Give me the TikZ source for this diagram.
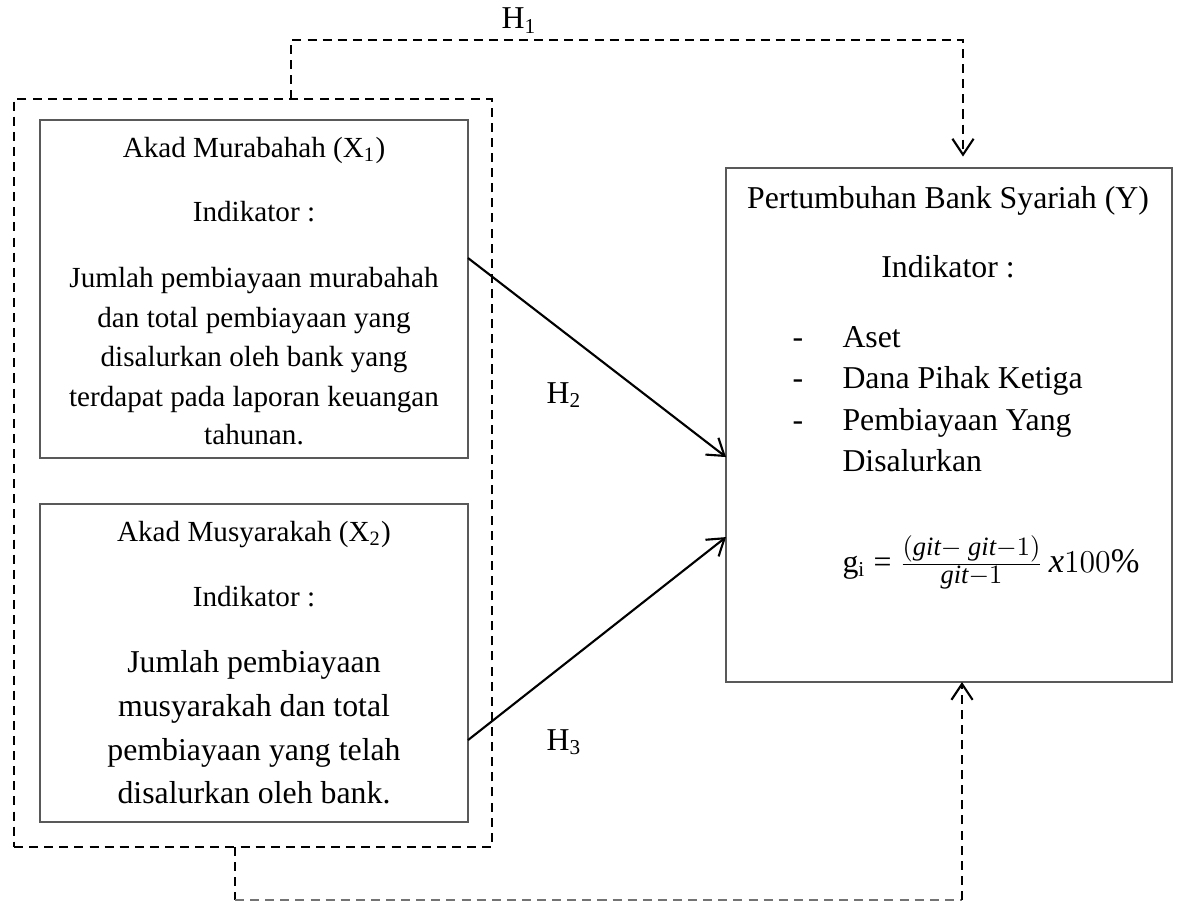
\documentclass[tikz,border=0pt]{standalone}
\usepackage{fontspec}
\setmainfont{Liberation Serif}
\usetikzlibrary{arrows.meta}
\newcommand\fA{\fontsize{11pt}{13pt}\selectfont}
\newcommand\fB{\fontsize{12pt}{14pt}\selectfont}
\newcommand\fracpart[1]{\hbox{\fontsize{10pt}{12pt}\selectfont$#1$}}
\begin{document}
\begin{tikzpicture}[x=0.3774pt,y=-0.3774pt,
  box/.style={draw=black!65,line width=0.45pt,inner sep=0pt,outer sep=0pt},
  grpbox/.style={draw=black,line width=0.7pt,dash pattern=on 3.4pt off 2.3pt,inner sep=0pt,outer sep=0pt},
  dline/.style={draw=black,line width=0.7pt,dash pattern=on 3.4pt off 2.3pt},
  gline/.style={draw=black!55,line width=0.45pt,dash pattern=on 3.4pt off 2.3pt},
  barb/.style={-{Straight Barb[length=6pt,width=8pt,line width=0.8pt]}},
  arr/.style={draw=black,line width=0.8pt,barb},
  tA/.style={font=\fA,inner sep=0pt,anchor=base},
  tB/.style={font=\fB,inner sep=0pt,anchor=base},
  tBw/.style={font=\fB,inner sep=0pt,anchor=base west}]
\useasboundingbox (0,0) rectangle (1178,904);
% boxes
\node[grpbox,minimum width=180.4pt,minimum height=282.3pt] (grp) at (253,473) {};
\node[box,fill=white,minimum width=161.5pt,minimum height=127.6pt] (b1) at (254,289) {};
\node[box,fill=white,minimum width=161.5pt,minimum height=120.0pt] (b2) at (254,663) {};
\node[box,minimum width=168.3pt,minimum height=194.0pt] (y) at (949,425) {};
% box 1 text
\node[tA] (b1t) at (254,157) {Akad Murabahah (X\textsubscript{1})};
\node[tA] (b1i) at (254,221) {Indikator :};
\node[tA] (b1a) at (254,287) {Jumlah pembiayaan murabahah};
\node[tA] (b1b) at (254,327) {dan total pembiayaan yang};
\node[tA] (b1c) at (254,366) {disalurkan oleh bank yang};
\node[tA] (b1d) at (254,406) {terdapat pada laporan keuangan};
\node[tA] (b1e) at (254,444) {tahunan.};
% box 2 text
\node[tA] (b2t) at (254,541) {Akad Musyarakah (X\textsubscript{2})};
\node[tA] (b2i) at (254,606) {Indikator :};
\node[tB] (b2a) at (254,672) {Jumlah pembiayaan};
\node[tB] (b2b) at (254,716) {musyarakah dan total};
\node[tB] (b2c) at (254,760) {pembiayaan yang telah};
\node[tB] (b2d) at (254,803) {disalurkan oleh bank.};
% right box text
\node[tB] (yt) at (948,208) {Pertumbuhan Bank Syariah (Y)};
\node[tB] (yi) at (948,277) {Indikator :};
\node[tB] (d1) at (798,347) {-};
\node[tB] (d2) at (798,388) {-};
\node[tB] (d3) at (798,430) {-};
\node[tBw] (l1) at (842,347) {Aset};
\node[tBw] (l2) at (842,388) {Dana Pihak Ketiga};
\node[tBw] (l3) at (842,430) {Pembiayaan Yang};
\node[tBw] (l4) at (842,471) {Disalurkan};
\node[tBw] (f) at (842,572) {g\textsubscript{i} = $\frac{\fracpart{(\mathit{git}{-}\ \mathit{git}{-}1)}}{\fracpart{\mathit{git}{-}1}}$\,{\fontsize{13pt}{15pt}\selectfont$\mathit{x}100\%$}};
% labels
\node[tB,anchor=base west] (h1) at (501,29) {H\textsubscript{1}};
\node[tB,anchor=base west] (h2) at (546,403) {H\textsubscript{2}};
\node[tB,anchor=base west] (h3) at (546,750) {H\textsubscript{3}};
% H1 connector
\coordinate (p1) at (291,40);
\coordinate (p2) at (963,40);
\draw[dline,barb,shorten >=4.3pt] (grp.north -| p1) -- (p1) -- (p2) -- (y.north -| p2);
% bottom connector
\coordinate (q1) at (235,900);
\coordinate (q2) at (962,900);
\draw[dline] (grp.south -| q1) -- (q1);
\draw[gline] (q1) -- (q2);
\draw[dline,barb] (q2) -- (y.south -| q2);
% H2, H3 arrows
\draw[arr] ([yshift=11.7pt]b1.east) -- ([yshift=-12.1pt]y.west);
\draw[arr] ([yshift=-29.1pt]b2.east) -- ([yshift=-42.3pt]y.west);
\end{tikzpicture}
\end{document}
